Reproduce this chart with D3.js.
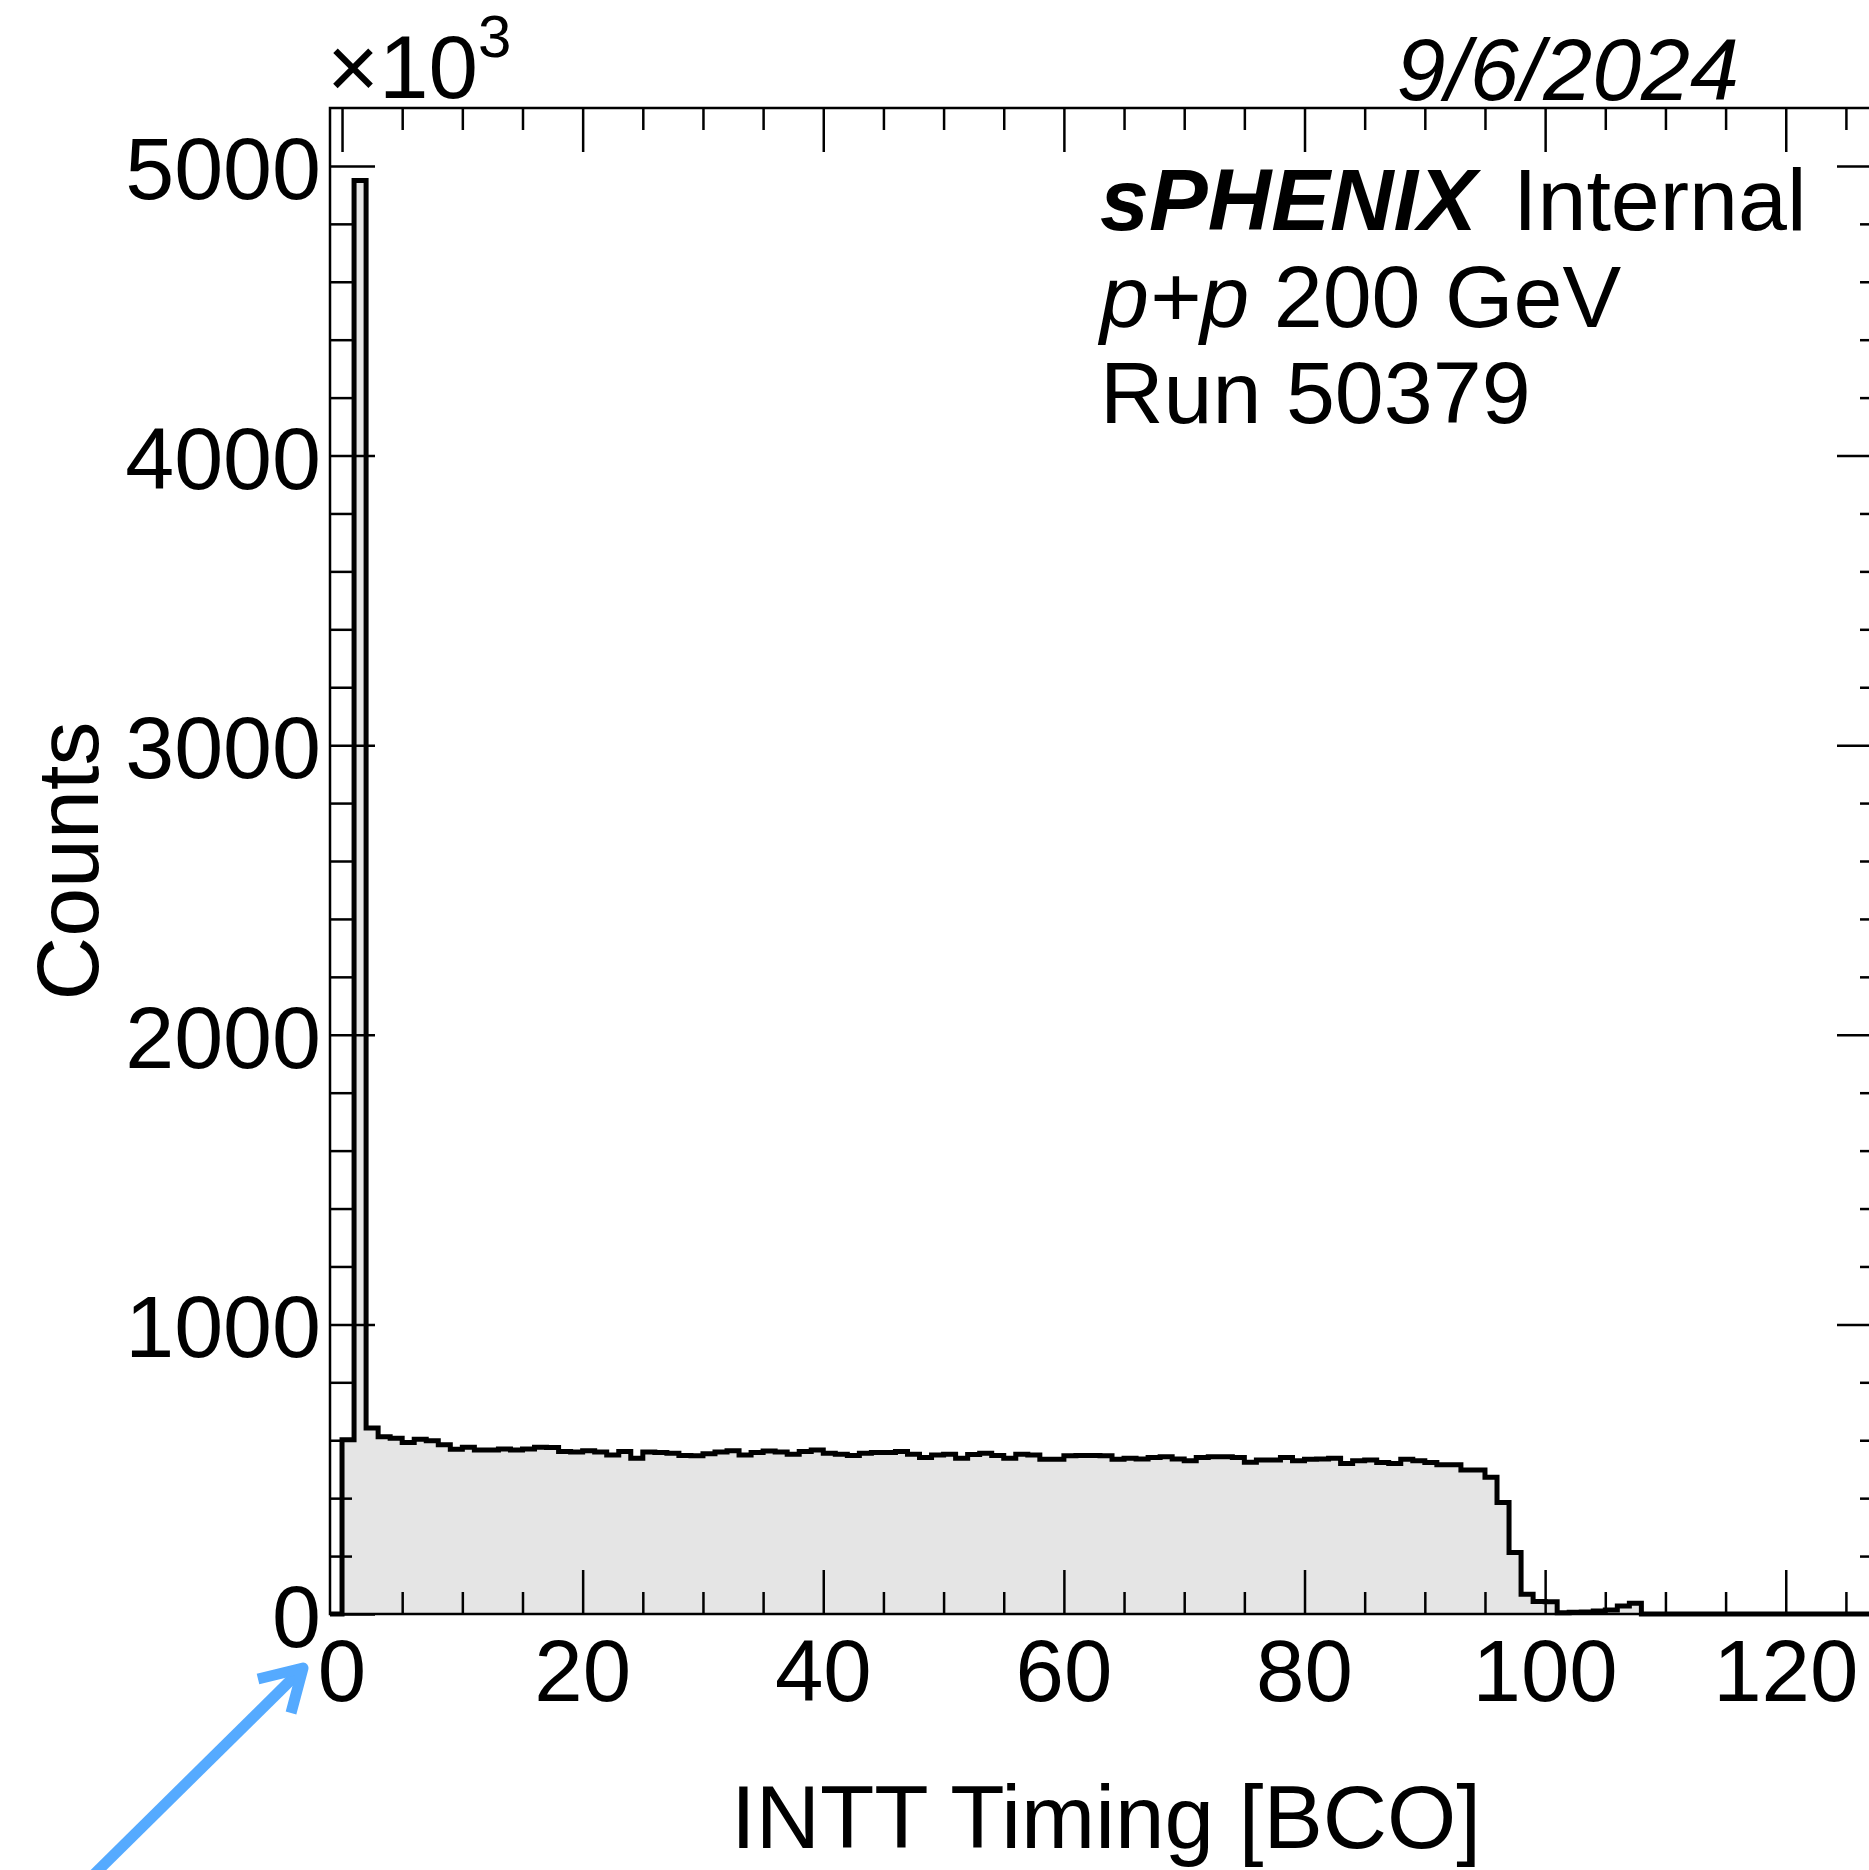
<!DOCTYPE html>
<html lang="en">
<head>
<meta charset="UTF-8">
<title>INTT Timing</title>
<script src="https://d3js.org/d3.v7.min.js"></script>
<style>
    body { margin: 0; background: #fff; }
    svg { display: block; }
    text { font-family: "Liberation Sans", Arial, Helvetica, sans-serif; fill: #000; }
</style>
</head>
<body>
<svg width="1869" height="1870"></svg>
<script>
// histogram: one bin per BCO, first bin starts at -1, counts in units of 10^3
const firstBin = -1;
const counts = [
    0, 602, 4950, 642, 612, 607, 592, 603, 598, 584,
    569, 576, 566, 566, 570, 566, 570, 576, 575, 561,
    559, 564, 559, 549, 561, 538, 559, 558, 555, 547,
    546, 553, 559, 564, 549, 558, 563, 559, 552, 561,
    566, 555, 552, 547, 555, 558, 558, 561, 552, 540,
    549, 552, 538, 551, 555, 547, 538, 552, 549, 534,
    534, 546, 547, 547, 546, 534, 538, 535, 540, 543,
    535, 529, 540, 543, 543, 540, 524, 532, 532, 540,
    529, 534, 535, 538, 520, 529, 532, 523, 520, 534,
    529, 523, 515, 515, 497, 497, 472, 385, 212, 68,
    43, 42, 4, 6, 7, 10, 14, 28, 37, 0,
    0, 0, 0, 0, 0, 0, 0, 0, 0, 0,
    0, 0, 0, 0, 0, 0, 0, 0, 0
];
const xRange = [-1, 128];
const yMax = 5200;
const xMajor = [0, 20, 40, 60, 80, 100, 120];
const xLabels = ["0", "20", "40", "60", "80", "100", "120"];
const yMajor = [0, 1000, 2000, 3000, 4000, 5000];
const yLabels = ["0", "1000", "2000", "3000", "4000", "5000"];
const xMinorStep = 5;
const yMinorStep = 200;
const xTitle = "INTT Timing [BCO]";
const yTitle = "Counts";
const dateText = "9/6/2024";

const frameL = 330, frameR = 1882, frameT = 108, frameB = 1614;
const svg = d3.select("svg");

const x = d3.scaleLinear().domain(xRange).range([frameL, frameR]);
const y = d3.scaleLinear().domain([0, yMax]).range([frameB, frameT]);

const pts = counts.map((c, i) => ({ x: firstBin + i, c: c }));
pts.push({ x: firstBin + counts.length, c: 0 });

svg.append("path")
    .datum(pts)
    .attr("fill", "#e5e5e5")
    .attr("d", d3.area().curve(d3.curveStepAfter)
        .x(d => x(d.x)).y0(y(0)).y1(d => y(d.c)));

svg.append("path")
    .datum(pts)
    .attr("fill", "none")
    .attr("stroke", "#000")
    .attr("stroke-width", 5)
    .attr("d", d3.line().curve(d3.curveStepAfter)
        .x(d => x(d.x)).y(d => y(d.c)));

// ticks on all four sides, pointing inward
const xMinor = d3.range(0, xRange[1], xMinorStep).filter(v => !xMajor.includes(v));
const yMinor = d3.range(0, yMax, yMinorStep).filter(v => !yMajor.includes(v));

function ticks(axis, vals, size, tx, ty) {
    const g = svg.append("g")
        .attr("transform", `translate(${tx},${ty})`)
        .call(axis.tickValues(vals).tickSize(size).tickFormat(""));
    g.select(".domain").remove();
    g.selectAll("line").attr("stroke", "#000").attr("stroke-width", 2.5);
}
ticks(d3.axisBottom(x), xMajor, -44, 0, frameB);
ticks(d3.axisBottom(x), xMinor, -22, 0, frameB);
ticks(d3.axisTop(x), xMajor, -44, 0, frameT);
ticks(d3.axisTop(x), xMinor, -22, 0, frameT);
ticks(d3.axisLeft(y), yMajor, -45, frameL, 0);
ticks(d3.axisLeft(y), yMinor, -22, frameL, 0);
ticks(d3.axisRight(y), yMajor, -45, frameR, 0);
ticks(d3.axisRight(y), yMinor, -22, frameR, 0);

svg.append("rect")
    .attr("x", frameL).attr("y", frameT)
    .attr("width", frameR - frameL).attr("height", frameB - frameT)
    .attr("fill", "none").attr("stroke", "#000").attr("stroke-width", 2.5);

// tick labels
svg.selectAll(".xl").data(xMajor).enter().append("text")
    .attr("x", d => x(d)).attr("y", 1701)
    .attr("text-anchor", "middle").attr("font-size", 87)
    .text((d, i) => xLabels[i]);

svg.selectAll(".yl").data(yMajor).enter().append("text")
    .attr("x", 321).attr("y", d => y(d) + 33)
    .attr("text-anchor", "end").attr("font-size", 88)
    .text((d, i) => yLabels[i]);

const mult = svg.append("text").attr("x", 327).attr("y", 98).attr("font-size", 89);
mult.append("tspan").text("\u00d710");
mult.append("tspan").attr("font-size", 60).attr("dy", -41).text("3");

// axis titles
svg.append("text")
    .attr("x", (frameL + frameR) / 2).attr("y", 1848)
    .attr("text-anchor", "middle").attr("font-size", 89)
    .text(xTitle);

svg.append("text")
    .attr("transform", `translate(98,${(frameT + frameB) / 2}) rotate(-90)`)
    .attr("text-anchor", "middle").attr("font-size", 88)
    .text(yTitle);

svg.append("text")
    .attr("x", 1739).attr("y", 100)
    .attr("text-anchor", "end").attr("font-size", 88).attr("font-style", "italic")
    .text(dateText);

// labels
const l1 = svg.append("text").attr("x", 1100).attr("y", 230).attr("font-size", 88);
l1.append("tspan").attr("font-weight", "bold").attr("font-style", "italic").text("sPHENIX");
l1.append("tspan").attr("dx", 12).text(" Internal");

const l2 = svg.append("text").attr("x", 1100).attr("y", 327).attr("font-size", 88);
l2.append("tspan").attr("font-style", "italic").text("p+p");
l2.append("tspan").text(" 200 GeV");

svg.append("text").attr("x", 1100).attr("y", 423).attr("font-size", 88)
    .text("Run 50379");

// blue arrow pointing at the x-axis zero
const tip = [303, 1668];
svg.append("line")
    .attr("x1", 60).attr("y1", 1908).attr("x2", tip[0] - 3).attr("y2", tip[1] + 3)
    .attr("stroke", "#55aaff").attr("stroke-width", 11);
svg.append("polyline")
    .attr("points", `${tip[0] - 45},${tip[1] + 11} ${tip[0]},${tip[1]} ${tip[0] - 12},${tip[1] + 45}`)
    .attr("fill", "none").attr("stroke", "#55aaff").attr("stroke-width", 11)
    .attr("stroke-linejoin", "round");
</script>
</body>
</html>
